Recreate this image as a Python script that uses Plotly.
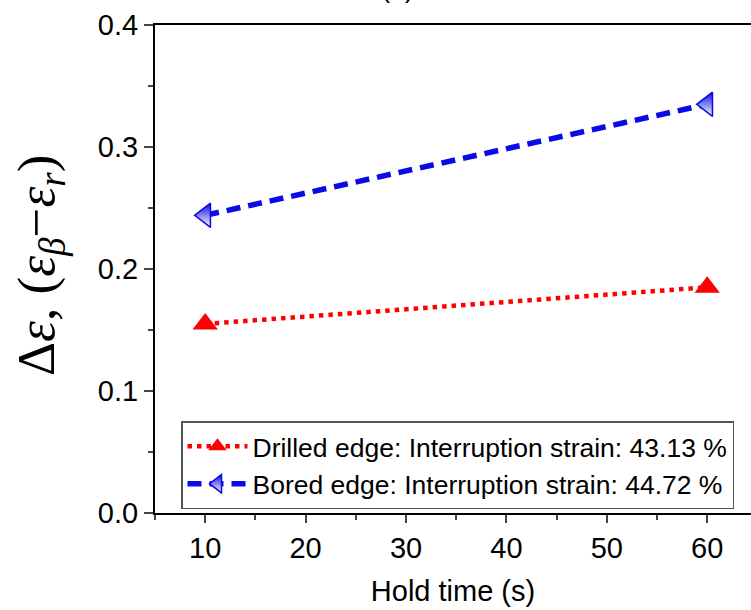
import plotly.graph_objects as go

hold_time = [10, 60]
drilled = [0.155, 0.185]
bored = [0.244, 0.335]
drilled_name = "Drilled edge: Interruption strain: 43.13 %"
bored_name = "Bored edge: Interruption strain: 44.72 %"
x_ticks = [10, 20, 30, 40, 50, 60]
y_ticks = [0.0, 0.1, 0.2, 0.3, 0.4]

fig = go.Figure()
fig.add_trace(go.Scatter(
    x=hold_time, y=drilled, name=drilled_name, mode="lines+markers",
    line=dict(color="#ff0000", width=4.5, dash="4.5px,5px"),
    marker=dict(symbol="triangle-up", size=22, color="#ff0000"),
))
fig.add_trace(go.Scatter(
    x=hold_time, y=bored, name=bored_name, mode="lines+markers",
    line=dict(color="#0a0ae6", width=5.5, dash="14px,8px"),
    marker=dict(symbol="triangle-left", size=21, color="#0a0ae6",
                line=dict(color="#0a0ae6", width=1.5),
                gradient=dict(type="vertical", color="white")),
))

font_family = "Arial, Liberation Sans, sans-serif"
fig.update_layout(
    width=751, height=610,
    margin=dict(l=155, r=0, t=25, b=97),
    paper_bgcolor="white", plot_bgcolor="white",
    font=dict(family=font_family, size=29, color="black"),
    showlegend=True,
    legend=dict(x=(181 - 155) / 596, y=(513 - 421) / 488, xanchor="left", yanchor="top",
                bgcolor="white", bordercolor="#555555", borderwidth=1.5,
                font=dict(size=26.5), itemwidth=60, tracegroupgap=0),
    xaxis=dict(range=[5, 64.36], tickvals=x_ticks, ticks="outside", ticklen=8, tickwidth=2,
               showline=True, linewidth=2, linecolor="black", mirror=True,
               showgrid=False, zeroline=False,
               minor=dict(dtick=5, tick0=5, ticks="outside", ticklen=5, tickwidth=2),
               title=dict(text="Hold time (s)", font=dict(size=29), standoff=18)),
    yaxis=dict(range=[0, 0.4], tickvals=y_ticks, tickformat=".1f", ticks="outside", ticklen=9, tickwidth=2,
               showline=True, linewidth=2, linecolor="black",
               showgrid=False, zeroline=False,
               minor=dict(dtick=0.05, tick0=0, ticks="outside", ticklen=5, tickwidth=2)),
    annotations=[
        dict(text="Δ<i>ε</i>, (<i>ε</i><sub><i>β</i></sub>−<i>ε</i><sub><i>r</i></sub>)",
             xref="paper", yref="paper", x=(40 - 155) / 596, y=(513 - 266) / 488,
             xanchor="center", yanchor="middle", textangle=-90, showarrow=False,
             font=dict(family="Liberation Serif, Times New Roman, serif", size=53)),
        dict(text="(a)", xref="paper", yref="paper", x=(397 - 155) / 596, y=(513 - 5) / 488,
             xanchor="center", yanchor="bottom", showarrow=False,
             font=dict(size=27)),
    ],
)
fig.write_html("out.html")
